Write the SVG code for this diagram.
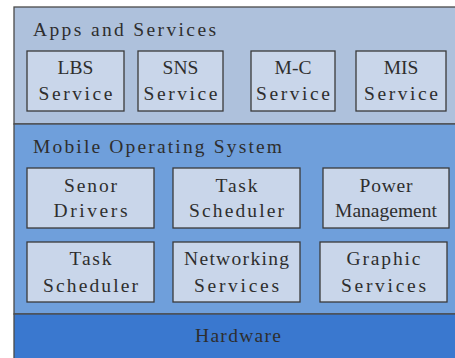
<svg xmlns="http://www.w3.org/2000/svg" width="455" height="358" viewBox="0 0 455 358">
<style>
text{font-family:"Liberation Serif","Times New Roman",serif;fill:#2e2e2e;font-size:19.5px}
.b{text-anchor:middle}
.box{fill:#c9d6ea;stroke:#3a3a3a;stroke-width:1.3}
.layer{stroke:#4a4a4a;stroke-width:1.3}
</style>
<rect width="455" height="358" fill="#ffffff"/>
<g id="apps-layer">
<rect class="layer" x="14" y="7" width="442" height="117" fill="#aec1dc"/>
<text x="33" y="36" textLength="183">Apps and Services</text>
</g>
<g id="os-layer">
<rect class="layer" x="14" y="124" width="442" height="190" fill="#6f9fdb"/>
<text x="33" y="153" textLength="249">Mobile Operating System</text>
</g>
<g id="hardware">
<rect class="layer" x="14" y="314" width="442" height="46" fill="#3a78cf"/>
<text class="b" x="238" y="342" textLength="86">Hardware</text>
</g>
<g id="lbs"><rect class="box" x="27" y="51" width="97" height="60"/><text class="b" x="75.5" y="74">LBS</text><text class="b" x="75.5" y="100" textLength="74">Service</text></g>
<g id="sns"><rect class="box" x="138" y="51" width="85" height="60"/><text class="b" x="180.5" y="74">SNS</text><text class="b" x="180.5" y="100" textLength="74">Service</text></g>
<g id="mc"><rect class="box" x="251" y="51" width="84" height="60"/><text class="b" x="293" y="74">M-C</text><text class="b" x="293" y="100" textLength="74">Service</text></g>
<g id="mis"><rect class="box" x="356" y="51" width="90" height="60"/><text class="b" x="401" y="74">MIS</text><text class="b" x="401" y="100" textLength="74">Service</text></g>
<g id="sensor"><rect class="box" x="27" y="168" width="127" height="60"/><text class="b" x="90.5" y="192" textLength="53">Senor</text><text class="b" x="90.5" y="217" textLength="74">Drivers</text></g>
<g id="task1"><rect class="box" x="173" y="168" width="127" height="60"/><text class="b" x="236.5" y="192" textLength="42">Task</text><text class="b" x="236.5" y="217" textLength="95">Scheduler</text></g>
<g id="power"><rect class="box" x="323" y="168" width="126" height="60"/><text class="b" x="386" y="192" textLength="53">Power</text><text class="b" x="386" y="217">Management</text></g>
<g id="task2"><rect class="box" x="27" y="242" width="127" height="60"/><text class="b" x="90.5" y="265" textLength="42">Task</text><text class="b" x="90.5" y="292" textLength="95">Scheduler</text></g>
<g id="networking"><rect class="box" x="173" y="242" width="127" height="60"/><text class="b" x="236.5" y="265" textLength="105">Networking</text><text class="b" x="236.5" y="292" textLength="85">Services</text></g>
<g id="graphic"><rect class="box" x="320" y="242" width="127" height="60"/><text class="b" x="383.5" y="265" textLength="74">Graphic</text><text class="b" x="383.5" y="292" textLength="85">Services</text></g>
<g id="connectors"></g>
</svg>
